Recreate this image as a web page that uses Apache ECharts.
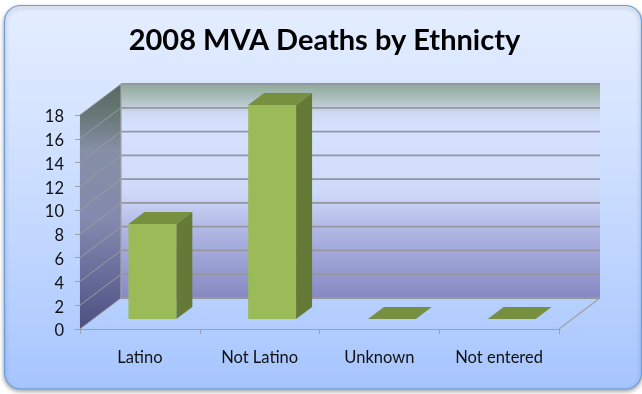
<!DOCTYPE html>
<html><head><meta charset="utf-8">
<style>html,body{margin:0;padding:0;background:#fff}#c{width:642px;height:394px}</style>
<script src="https://cdn.jsdelivr.net/npm/echarts@6/dist/echarts.min.js"></script>
</head><body><div id="c"></div>
<script>
const titleText = '2008 MVA Deaths by Ethnicty';
const categories = ['Latino', 'Not Latino', 'Unknown', 'Not entered'];
const deaths = [8, 18, 0, 0];
const yTicks = [0, 2, 4, 6, 8, 10, 12, 14, 16, 18];

const G = echarts.graphic;
const lin = (x1, y1, x2, y2, stops) => new G.LinearGradient(x1, y1, x2, y2,
  stops.map(s => ({ offset: s[0], color: s[1] })));
const WALL = [41, -31];      // depth of the chart box in px
const FRONT = [12.5, -10];   // bar front face offset
const SIDE = [16, -12];      // bar depth

function poly(points, fill, z2) {
  return { type: 'polygon', shape: { points }, style: { fill, stroke: null }, z2: z2 || 0 };
}
function seg(a, b, color, w, z2) {
  return { type: 'line', shape: { x1: a[0], y1: a[1], x2: b[0], y2: b[1] },
    style: { stroke: color, lineWidth: w, fill: null }, z2: z2 || 1 };
}
function renderWalls(params, api) {
  const cs = params.coordSys;
  const L = cs.x, R = cs.x + cs.width;
  const yAt = v => api.coord([0, v])[1];
  const y0 = yAt(yTicks[0]), yT = yAt(yTicks[yTicks.length - 1]);
  const dx = WALL[0], dy = WALL[1];
  const kids = [];
  kids.push(poly([[L + dx, yT + dy], [R + dx, yT + dy], [R + dx, y0 + dy], [L + dx, y0 + dy]],
    lin(0, 0, 0, 1, [[0, '#8fa897'], [0.1, '#bccbd2'], [0.14, '#d0dbf5'], [0.22, '#d6e1ff'],
      [0.5, '#cfdafa'], [0.7, '#adb4e2'], [1, '#8689c2']])));
  kids.push(poly([[L, yT], [L + dx, yT + dy], [L + dx, y0 + dy], [L, y0]],
    lin(0, 0, 0, 1, [[0, '#56695d'], [0.14, '#6a7a7c'], [0.27, '#868fa6'], [0.55, '#848aae'],
      [0.8, '#666a99'], [1, '#4c4f80']])));
  yTicks.forEach(v => {
    const y = yAt(v);
    kids.push(seg([L + dx, y + dy], [R + dx, y + dy], '#96969f', 1.8));
    kids.push(seg([L, y], [L + dx, y + dy], '#9b9ba0', 1));
  });
  kids.push(seg([L + dx, yT + dy], [L + dx, y0 + dy], '#a3a3a8', 1.2));
  kids.push(seg([R, y0], [R + dx, y0 + dy], '#a0a0a0', 1.2));
  return { type: 'group', children: kids };
}
function renderBar(params, api) {
  const base = api.coord([api.value(0), 0]);
  const top = api.coord([api.value(0), api.value(1)]);
  const w = api.size([1, 0])[0] * 0.4;
  const x0 = base[0] - w / 2 + FRONT[0], x1 = x0 + w;
  const yb = base[1] + FRONT[1], yt = top[1] + FRONT[1];
  const sx = SIDE[0], sy = SIDE[1];
  const kids = [
    poly([[x0, yt], [x0 + sx, yt + sy], [x1 + sx, yt + sy], [x1, yt]], '#779040', 3)
  ];
  if (yb - yt > 0.5) {
    kids.push(poly([[x1, yt], [x1 + sx, yt + sy], [x1 + sx, yb + sy], [x1, yb]], '#667a37', 3));
    kids.push(poly([[x0, yt], [x1, yt], [x1, yb], [x0, yb]], '#9bbb59', 4));
  }
  return { type: 'group', children: kids };
}

const chart = echarts.init(document.getElementById('c'), null, { renderer: 'canvas' });
chart.setOption({
  animation: false,
  backgroundColor: '#ffffff',
  title: {
    text: titleText, left: 319.5, top: 21, textAlign: 'center',
    textStyle: { fontFamily: 'Lato', fontWeight: 'bold', fontSize: 29, color: '#000' }
  },
  graphic: [{
    type: 'rect', z: -10, silent: true,
    shape: { x: 4.5, y: 5.5, width: 637, height: 383.5, r: 16 },
    style: {
      fill: lin(0, 0, 0, 1, [[0, '#e5eeff'], [0.5, '#c9dcff'], [1, '#a6c5fe']]),
      stroke: '#6f9fd8', lineWidth: 1.2,
      shadowColor: 'rgba(0,0,0,0.35)', shadowBlur: 4, shadowOffsetY: 2
    }
  }],
  grid: { left: 80, top: 115, width: 479, height: 214, containLabel: false },
  xAxis: {
    type: 'category', data: categories, boundaryGap: true,
    axisLine: { show: true, lineStyle: { color: '#a0a0a0', width: 1.2 } },
    axisTick: { show: true, alignWithLabel: false, length: 5, lineStyle: { color: '#a0a0a0' } },
    axisLabel: { fontFamily: 'Lato', fontSize: 16.5, color: '#111', margin: 20 },
    splitLine: { show: false }
  },
  yAxis: {
    type: 'value', min: 0, max: 18, interval: 2,
    axisLine: { show: true, lineStyle: { color: '#a0a0a0', width: 1.2 } },
    axisTick: { show: true, length: 5, lineStyle: { color: '#a0a0a0' } },
    axisLabel: { fontFamily: 'Lato', fontSize: 16.5, color: '#111', margin: 16, verticalAlign: 'top', lineHeight: 4 },
    splitLine: { show: false }
  },
  series: [
    { type: 'custom', coordinateSystem: 'cartesian2d', z: 1, clip: false, silent: true,
      renderItem: renderWalls, data: [[0, 0]] },
    { type: 'custom', coordinateSystem: 'cartesian2d', z: 3, clip: false, silent: true,
      renderItem: renderBar, encode: { x: 0, y: 1 },
      data: deaths.map((v, i) => [i, v]) }
  ]
});
</script></body></html>
